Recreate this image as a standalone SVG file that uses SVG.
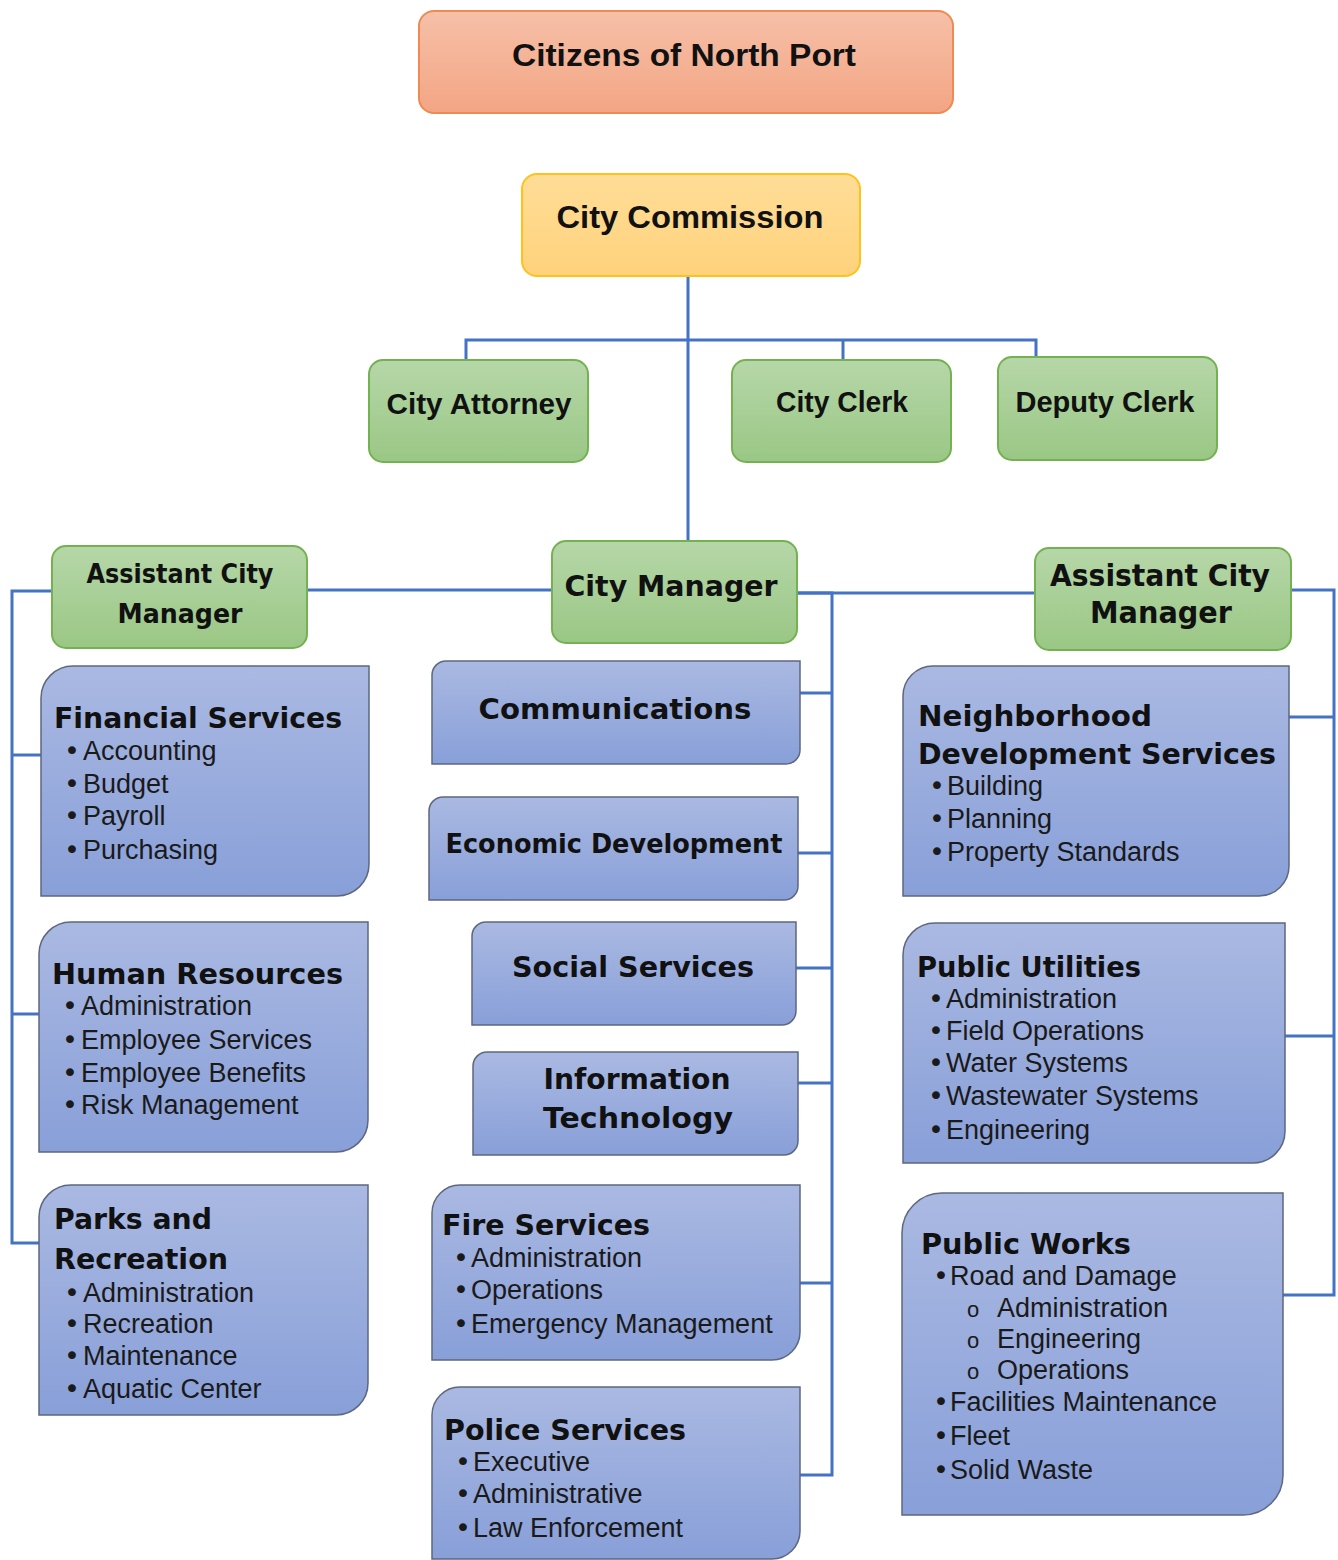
<svg xmlns="http://www.w3.org/2000/svg" width="1338" height="1560" viewBox="0 0 1338 1560">
  <defs>
    <linearGradient id="gOrange" x1="0" y1="0" x2="0" y2="1">
      <stop offset="0" stop-color="#F6C0A8"/>
      <stop offset="1" stop-color="#F3A584"/>
    </linearGradient>
    <linearGradient id="gGold" x1="0" y1="0" x2="0" y2="1">
      <stop offset="0" stop-color="#FFDD97"/>
      <stop offset="1" stop-color="#FFD27C"/>
    </linearGradient>
    <linearGradient id="gGreen" x1="0" y1="0" x2="0" y2="1">
      <stop offset="0" stop-color="#B6D7A8"/>
      <stop offset="1" stop-color="#9AC785"/>
    </linearGradient>
    <linearGradient id="gBlue" x1="0" y1="0" x2="0" y2="1">
      <stop offset="0" stop-color="#AAB9E2"/>
      <stop offset="1" stop-color="#889FD8"/>
    </linearGradient>
    <style>
      .ln { fill: none; stroke: #4472C4; stroke-width: 3; }
      .orange { fill: url(#gOrange); stroke: #EE8A52; stroke-width: 2; }
      .gold { fill: url(#gGold); stroke: #FFC21A; stroke-width: 2; }
      .green { fill: url(#gGreen); stroke: #74B150; stroke-width: 2; }
      .blue { fill: url(#gBlue); stroke: #5D6780; stroke-width: 1.5; }
      .head { font-family: "Liberation Sans", Arial, sans-serif; font-weight: bold; fill: #111; text-anchor: middle; }
      .headv { font-family: "DejaVu Sans", Verdana, sans-serif; font-weight: bold; fill: #111; text-anchor: middle; }
      .title { font-family: "DejaVu Sans", Verdana, sans-serif; font-weight: bold; font-size: 28px; fill: #111; }
      .item { font-family: "Liberation Sans", Arial, sans-serif; font-size: 27px; fill: #1a1a1a; }
      .bul { font-family: "DejaVu Sans", sans-serif; }
      .sub { font-size: 22px; }
    </style>
  </defs>

  <!-- connector lines -->
  <g id="connectors">
    <path class="ln" d="M688,276 V541"/>
    <path class="ln" d="M466,360 V340 H1036 V357"/>
    <path class="ln" d="M843,340 V360"/>
    <!-- left branch -->
    <path class="ln" d="M307,590 H552"/>
    <path class="ln" d="M52,591 H12 V1243 H39"/>
    <path class="ln" d="M12,755 H41"/>
    <path class="ln" d="M12,1014 H39"/>
    <!-- middle branch -->
    <path class="ln" d="M797,593 H832 V1475 H800"/>
    <path class="ln" d="M800,693 H832"/>
    <path class="ln" d="M798,853 H832"/>
    <path class="ln" d="M796,968 H832"/>
    <path class="ln" d="M798,1083 H832"/>
    <path class="ln" d="M800,1283 H832"/>
    <!-- right branch -->
    <path class="ln" d="M797,593 H1035"/>
    <path class="ln" d="M1291,590 H1334 V1295 H1283"/>
    <path class="ln" d="M1289,717 H1334"/>
    <path class="ln" d="M1285,1036 H1334"/>
  </g>

  <g id="citizens">
    <rect class="orange" x="419" y="11" width="534" height="102" rx="15"/>
    <text class="head" x="684" y="66" font-size="32" textLength="344" lengthAdjust="spacingAndGlyphs">Citizens of North Port</text>
  </g>

  <g id="city-commission">
    <rect class="gold" x="522" y="174" width="338" height="102" rx="15"/>
    <text class="head" x="690" y="228" font-size="32" textLength="267" lengthAdjust="spacingAndGlyphs">City Commission</text>
  </g>

  <g id="city-attorney">
    <rect class="green" x="369" y="360" width="219" height="102" rx="14"/>
    <text class="head" x="479" y="414" font-size="29" textLength="185" lengthAdjust="spacingAndGlyphs">City Attorney</text>
  </g>

  <g id="city-clerk">
    <rect class="green" x="732" y="360" width="219" height="102" rx="14"/>
    <text class="head" x="842" y="412" font-size="29" textLength="132" lengthAdjust="spacingAndGlyphs">City Clerk</text>
  </g>

  <g id="deputy-clerk">
    <rect class="green" x="998" y="357" width="219" height="103" rx="14"/>
    <text class="head" x="1105" y="412" font-size="29" textLength="179" lengthAdjust="spacingAndGlyphs">Deputy Clerk</text>
  </g>

  <g id="assistant-city-manager-left">
    <rect class="green" x="52" y="546" width="255" height="102" rx="14"/>
    <text class="headv" x="180" y="583" font-size="27" textLength="187" lengthAdjust="spacingAndGlyphs">Assistant City</text>
    <text class="headv" x="180" y="623" font-size="27" textLength="125" lengthAdjust="spacingAndGlyphs">Manager</text>
  </g>

  <g id="city-manager">
    <rect class="green" x="552" y="541" width="245" height="102" rx="14"/>
    <text class="headv" x="671" y="596" font-size="29" textLength="213" lengthAdjust="spacingAndGlyphs">City Manager</text>
  </g>

  <g id="assistant-city-manager-right">
    <rect class="green" x="1035" y="548" width="256" height="102" rx="14"/>
    <text class="headv" x="1160" y="586" font-size="30" textLength="220" lengthAdjust="spacingAndGlyphs">Assistant City</text>
    <text class="headv" x="1161" y="623" font-size="30" textLength="142" lengthAdjust="spacingAndGlyphs">Manager</text>
  </g>

  <!-- departments under the left assistant city manager -->
  <g id="financial-services">
    <path class="blue" d="M73,666 H369 V864 A32,32 0 0 1 337,896 H41 V698 A32,32 0 0 1 73,666 Z"/>
    <text class="title" x="54" y="728" textLength="288" lengthAdjust="spacingAndGlyphs">Financial Services</text>
    <text class="item" y="760"><tspan class="bul" x="64">•</tspan><tspan x="83">Accounting</tspan></text>
    <text class="item" y="793"><tspan class="bul" x="64">•</tspan><tspan x="83">Budget</tspan></text>
    <text class="item" y="825"><tspan class="bul" x="64">•</tspan><tspan x="83">Payroll</tspan></text>
    <text class="item" y="859"><tspan class="bul" x="64">•</tspan><tspan x="83">Purchasing</tspan></text>
  </g>

  <g id="human-resources">
    <path class="blue" d="M71,922 H368 V1120 A32,32 0 0 1 336,1152 H39 V954 A32,32 0 0 1 71,922 Z"/>
    <text class="title" x="52" y="984" textLength="291" lengthAdjust="spacingAndGlyphs">Human Resources</text>
    <text class="item" y="1015"><tspan class="bul" x="62">•</tspan><tspan x="81">Administration</tspan></text>
    <text class="item" y="1049"><tspan class="bul" x="62">•</tspan><tspan x="81">Employee Services</tspan></text>
    <text class="item" y="1082"><tspan class="bul" x="62">•</tspan><tspan x="81">Employee Benefits</tspan></text>
    <text class="item" y="1114"><tspan class="bul" x="62">•</tspan><tspan x="81">Risk Management</tspan></text>
  </g>

  <g id="parks-and-recreation">
    <path class="blue" d="M71,1185 H368 V1383 A32,32 0 0 1 336,1415 H39 V1217 A32,32 0 0 1 71,1185 Z"/>
    <text class="title" x="54" y="1229" textLength="158" lengthAdjust="spacingAndGlyphs">Parks and</text>
    <text class="title" x="54" y="1269" textLength="174" lengthAdjust="spacingAndGlyphs">Recreation</text>
    <text class="item" y="1302"><tspan class="bul" x="64">•</tspan><tspan x="83">Administration</tspan></text>
    <text class="item" y="1333"><tspan class="bul" x="64">•</tspan><tspan x="83">Recreation</tspan></text>
    <text class="item" y="1365"><tspan class="bul" x="64">•</tspan><tspan x="83">Maintenance</tspan></text>
    <text class="item" y="1398"><tspan class="bul" x="64">•</tspan><tspan x="83">Aquatic Center</tspan></text>
  </g>

  <!-- departments under the city manager -->
  <g id="communications">
    <path class="blue" d="M446,661 H800 V750 A14,14 0 0 1 786,764 H432 V675 A14,14 0 0 1 446,661 Z"/>
    <text class="headv" x="615" y="719" font-size="29" textLength="273" lengthAdjust="spacingAndGlyphs">Communications</text>
  </g>

  <g id="economic-development">
    <path class="blue" d="M443,797 H798 V886 A14,14 0 0 1 784,900 H429 V811 A14,14 0 0 1 443,797 Z"/>
    <text class="headv" x="614" y="853" font-size="26" textLength="337" lengthAdjust="spacingAndGlyphs">Economic Development</text>
  </g>

  <g id="social-services">
    <path class="blue" d="M486,922 H796 V1011 A14,14 0 0 1 782,1025 H472 V936 A14,14 0 0 1 486,922 Z"/>
    <text class="headv" x="633" y="977" font-size="29" textLength="242" lengthAdjust="spacingAndGlyphs">Social Services</text>
  </g>

  <g id="information-technology">
    <path class="blue" d="M487,1052 H798 V1141 A14,14 0 0 1 784,1155 H473 V1066 A14,14 0 0 1 487,1052 Z"/>
    <text class="headv" x="637" y="1089" font-size="29" textLength="187" lengthAdjust="spacingAndGlyphs">Information</text>
    <text class="headv" x="638" y="1128" font-size="29" textLength="190" lengthAdjust="spacingAndGlyphs">Technology</text>
  </g>

  <g id="fire-services">
    <path class="blue" d="M460,1185 H800 V1332 A28,28 0 0 1 772,1360 H432 V1213 A28,28 0 0 1 460,1185 Z"/>
    <text class="title" x="442" y="1235" textLength="208" lengthAdjust="spacingAndGlyphs">Fire Services</text>
    <text class="item" y="1267"><tspan class="bul" x="453">•</tspan><tspan x="471">Administration</tspan></text>
    <text class="item" y="1299"><tspan class="bul" x="453">•</tspan><tspan x="471">Operations</tspan></text>
    <text class="item" y="1333"><tspan class="bul" x="453">•</tspan><tspan x="471">Emergency Management</tspan></text>
  </g>

  <g id="police-services">
    <path class="blue" d="M460,1387 H800 V1531 A28,28 0 0 1 772,1559 H432 V1415 A28,28 0 0 1 460,1387 Z"/>
    <text class="title" x="444" y="1440" textLength="242" lengthAdjust="spacingAndGlyphs">Police Services</text>
    <text class="item" y="1471"><tspan class="bul" x="455">•</tspan><tspan x="473">Executive</tspan></text>
    <text class="item" y="1503"><tspan class="bul" x="455">•</tspan><tspan x="473">Administrative</tspan></text>
    <text class="item" y="1537"><tspan class="bul" x="455">•</tspan><tspan x="473">Law Enforcement</tspan></text>
  </g>

  <!-- departments under the right assistant city manager -->
  <g id="neighborhood-development-services">
    <path class="blue" d="M933,666 H1289 V866 A30,30 0 0 1 1259,896 H903 V696 A30,30 0 0 1 933,666 Z"/>
    <text class="title" x="918" y="726" textLength="234" lengthAdjust="spacingAndGlyphs">Neighborhood</text>
    <text class="title" x="918" y="764" textLength="358" lengthAdjust="spacingAndGlyphs">Development Services</text>
    <text class="item" y="795"><tspan class="bul" x="929">•</tspan><tspan x="947">Building</tspan></text>
    <text class="item" y="828"><tspan class="bul" x="929">•</tspan><tspan x="947">Planning</tspan></text>
    <text class="item" y="861"><tspan class="bul" x="929">•</tspan><tspan x="947">Property Standards</tspan></text>
  </g>

  <g id="public-utilities">
    <path class="blue" d="M935,923 H1285 V1131 A32,32 0 0 1 1253,1163 H903 V955 A32,32 0 0 1 935,923 Z"/>
    <text class="title" x="917" y="977" textLength="224" lengthAdjust="spacingAndGlyphs">Public Utilities</text>
    <text class="item" y="1008"><tspan class="bul" x="928">•</tspan><tspan x="946">Administration</tspan></text>
    <text class="item" y="1040"><tspan class="bul" x="928">•</tspan><tspan x="946">Field Operations</tspan></text>
    <text class="item" y="1072"><tspan class="bul" x="928">•</tspan><tspan x="946">Water Systems</tspan></text>
    <text class="item" y="1105"><tspan class="bul" x="928">•</tspan><tspan x="946">Wastewater Systems</tspan></text>
    <text class="item" y="1139"><tspan class="bul" x="928">•</tspan><tspan x="946">Engineering</tspan></text>
  </g>

  <g id="public-works">
    <path class="blue" d="M942,1193 H1283 V1475 A40,40 0 0 1 1243,1515 H902 V1233 A40,40 0 0 1 942,1193 Z"/>
    <text class="title" x="921" y="1254" textLength="210" lengthAdjust="spacingAndGlyphs">Public Works</text>
    <text class="item" y="1285"><tspan class="bul" x="933">•</tspan><tspan x="950">Road and Damage</tspan></text>
    <text class="item" y="1317"><tspan class="sub" x="967">o</tspan><tspan x="997">Administration</tspan></text>
    <text class="item" y="1348"><tspan class="sub" x="967">o</tspan><tspan x="997">Engineering</tspan></text>
    <text class="item" y="1379"><tspan class="sub" x="967">o</tspan><tspan x="997">Operations</tspan></text>
    <text class="item" y="1411"><tspan class="bul" x="933">•</tspan><tspan x="950">Facilities Maintenance</tspan></text>
    <text class="item" y="1445"><tspan class="bul" x="933">•</tspan><tspan x="950">Fleet</tspan></text>
    <text class="item" y="1479"><tspan class="bul" x="933">•</tspan><tspan x="950">Solid Waste</tspan></text>
  </g>
</svg>
